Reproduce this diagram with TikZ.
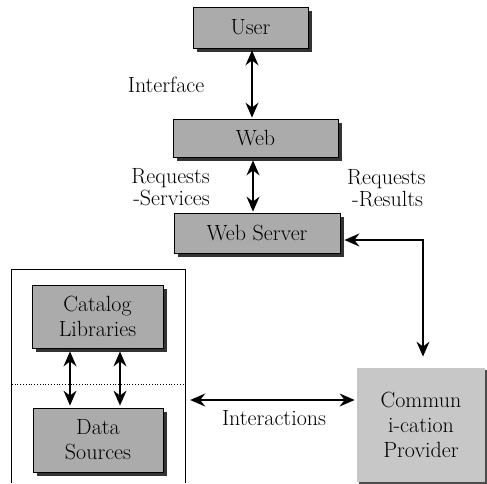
\documentclass[tikz,border=0pt]{standalone}
\usetikzlibrary{arrows.meta,shadows}
\begin{document}
\begin{tikzpicture}[x=1pt,y=-1pt,
  every node/.style={font=\fontsize{22}{25}\selectfont},
  box/.style={draw=black, line width=0.8pt, fill=black!33, inner sep=0pt, align=center},
  bigshadow/.style={drop shadow={shadow xshift=3.5pt, shadow yshift=-3.5pt, fill=black!80, opacity=1}},
  smallshadow/.style={drop shadow={shadow xshift=1.5pt, shadow yshift=-1.5pt, fill=black!70, opacity=1}},
  lbl/.style={inner sep=0pt},
  dbl/.style={line width=1.5pt, {Stealth[length=15pt,width=13pt,inset=5pt]}-{Stealth[length=15pt,width=13pt,inset=5pt]}}]
\useasboundingbox (0,0) rectangle (487,483);
% boxes
\node[box, bigshadow, minimum width=115pt, minimum height=41pt] (user) at (250.5,27.5) {User};
\node[box, bigshadow, minimum width=165pt, minimum height=38pt] (web) at (255.5,138) {Web};
\node[box, bigshadow, minimum width=166pt, minimum height=40pt] (ws) at (257,233) {Web Server};
\node[box, bigshadow, minimum width=131pt, minimum height=63pt] (cat) at (97.5,316.5) {Catalog\\Libraries};
\node[box, bigshadow, minimum width=130pt, minimum height=64pt] (data) at (98,440) {Data\\Sources};
\node[box, draw=none, fill=black!22, smallshadow, minimum width=128pt, minimum height=114pt] (comm) at (421,425) {Commun\\i-cation\\Provider};
% container
\node[inner sep=0pt, minimum width=173pt, minimum height=213pt] (cont) at (98.5,376.5) {};
\draw[line width=1.1pt] (cont.south west) -- (cont.north west) -- (cont.north east) -- (cont.south east);
\coordinate (dl) at (0,384);
\draw[dotted, line width=0.8pt] (cont.west |- dl) -- (cont.east |- dl);
% connectors
\draw[dbl] ([xshift=1.5pt,yshift=-2pt]user.south) -- ([xshift=-3.5pt,yshift=1pt]web.north);
\draw[dbl] ([xshift=-2.5pt,yshift=-3pt]web.south) -- ([xshift=-4pt,yshift=1pt]ws.north);
\coordinate (c1) at (423,240);
\draw[dbl] ([xshift=4pt,yshift=-7pt]ws.east) -- (c1) -- ([xshift=2pt,yshift=11pt]comm.north);
\draw[dbl] ([xshift=5pt,yshift=-23.5pt]cont.east) -- ([xshift=-2pt,yshift=25pt]comm.west);
\draw[dbl] ([xshift=-27.5pt,yshift=-3pt]cat.south) -- ([xshift=-28pt,yshift=2pt]data.north);
\draw[dbl] ([xshift=22.5pt,yshift=-3pt]cat.south) -- ([xshift=22pt,yshift=2pt]data.north);
% labels
\node[lbl, anchor=base] (iface) at (166,92) {Interface};
\node[lbl, anchor=base east] (rs1) at (210,183) {Requests};
\node[lbl, anchor=base east] (rs2) at (210,205) {-Services};
\node[lbl, anchor=base west] (rr1) at (347,184) {Requests};
\node[lbl, anchor=base west] (rr2) at (352,206) {-Results};
\node[lbl, anchor=base] (inter) at (274,425) {Interactions};
\end{tikzpicture}
\end{document}
